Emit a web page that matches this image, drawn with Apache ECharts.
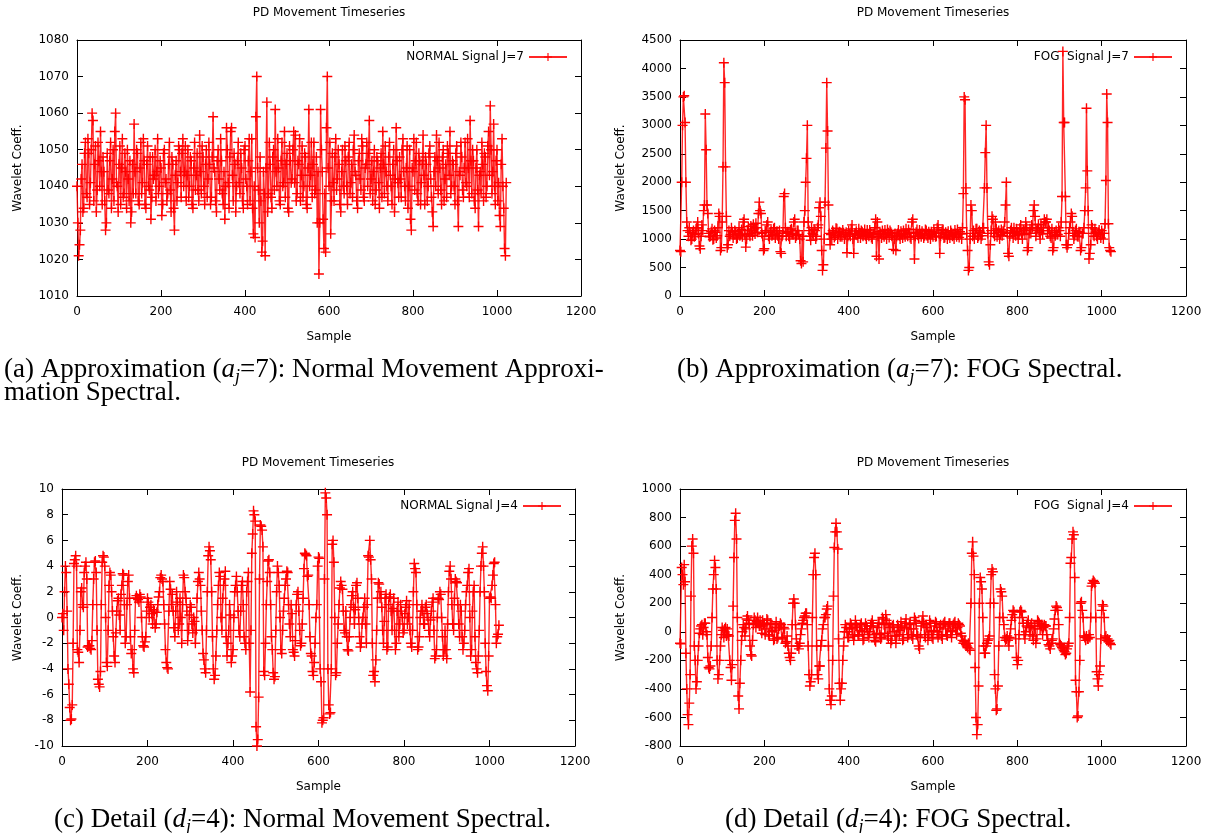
<!DOCTYPE html>
<html><head><meta charset="utf-8">
<script src="https://cdn.jsdelivr.net/npm/echarts@6/dist/echarts.min.js"></script>
<style>html,body{margin:0;padding:0;background:#fff}#c{width:1205px;height:833px}</style>
</head><body><div id="c"></div>
<script>
// sample index of stored point i = i * SAMPLE_STEP
const SAMPLE_STEP = 2;
const xTickLabels = [0, 200, 400, 600, 800, 1000, 1200];
const seriesNames = ['NORMAL Signal J=7', 'FOG  Signal J=7', 'NORMAL Signal J=4', 'FOG  Signal J=4'];
const panelTitle = 'PD Movement Timeseries';
const xName = 'Sample';
const yName = 'Wavelet Coeff.';

const normalJ7 = [
1040,1030,1021,1024,1028,1042,1046,1033,1034,1049,1052,1038,1037,1053,1049,1035,1041,1050,1060,1058,1036,1046,1051,1033,1039,1052,1047,1040,1055,1044,1035,1048,
1044,1036,1028,1030,1049,1039,1038,1047,1052,1034,1042,1050,1036,1055,1060,1041,1040,1033,1046,1051,1035,1045,1053,1037,1038,1049,1044,1034,1050,1042,1036,1047,
1030,1033,1046,1038,1057,1044,1038,1050,1049,1036,1035,1045,1052,1038,1041,1053,1047,1035,1034,1046,1051,1040,1039,1048,1031,1037,1048,1042,1043,1050,1036,1044,
1053,1038,1040,1047,1045,1032,1035,1049,1050,1041,1042,1036,1038,1046,1052,1039,1033,1048,1046,1034,1028,1043,1047,1036,1041,1051,1050,1044,1037,1049,1053,1040,
1044,1051,1036,1043,1050,1037,1040,1048,1047,1035,1034,1045,1052,1039,1043,1049,1039,1036,1054,1044,1038,1051,1048,1040,1035,1046,1050,1037,1042,1052,1046,1035,
1037,1048,1059,1045,1044,1036,1033,1047,1050,1042,1039,1053,1047,1038,1035,1044,1031,1040,1056,1050,1041,1034,1048,1055,1056,1043,1036,1049,1046,1033,1040,1047,
1052,1041,1038,1049,1045,1036,1034,1050,1051,1042,1040,1035,1047,1053,1036,1044,1053,1034,1027,1040,1026,1059,1070,1045,1039,1030,1048,1036,1022,1025,1044,1038,
1021,1045,1063,1033,1038,1052,1046,1037,1034,1048,1050,1039,1061,1044,1040,1053,1045,1036,1035,1047,1052,1040,1041,1055,1037,1046,1049,1034,1033,1051,1047,1041,
1042,1050,1055,1041,1054,1036,1038,1047,1046,1053,1036,1043,1051,1037,1040,1049,1048,1035,1034,1045,1061,1040,1043,1052,1037,1046,1052,1038,1039,1048,1030,1044,
1016,1030,1061,1050,1044,1031,1023,1038,1022,1056,1070,1045,1040,1052,1027,1036,1049,1041,1036,1048,1053,1039,1042,1050,1046,1035,1033,1044,1050,1040,1038,1051,
1047,1040,1035,1048,1052,1038,1041,1046,1037,1050,1054,1044,1043,1036,1034,1047,1049,1042,1039,1053,1051,1037,1036,1045,1046,1052,1040,1049,1058,1038,1042,1047,
1036,1044,1050,1035,1039,1048,1047,1041,1034,1045,1049,1037,1055,1046,1038,1051,1044,1040,1036,1048,1052,1043,1040,1035,1046,1050,1033,1042,1056,1047,1041,1037,
1048,1042,1037,1050,1053,1044,1040,1036,1045,1051,1034,1040,1050,1031,1028,1045,1044,1053,1039,1047,1052,1038,1036,1049,1047,1035,1041,1046,1054,1043,1035,1048,
1046,1036,1040,1049,1051,1042,1037,1033,1029,1044,1048,1040,1054,1047,1038,1052,1045,1039,1035,1048,1050,1036,1042,1046,1037,1051,1049,1043,1055,1038,1040,1047,
1046,1040,1035,1049,1051,1036,1029,1044,1043,1052,1048,1039,1037,1045,1052,1041,1040,1053,1045,1037,1058,1047,1038,1050,1047,1036,1034,1045,1050,1039,1029,1043,
1044,1038,1052,1046,1036,1049,1048,1037,1040,1051,1055,1043,1062,1050,1038,1044,1057,1040,1035,1047,1050,1036,1041,1032,1029,1046,1053,1040,1034,1023,1021,1041
];

const fogJ7 = [
800,780,2000,3000,3500,3520,3050,2000,1300,1150,1050,1200,1120,980,1000,1100,1150,1040,1080,1180,1200,1300,1100,880,830,1050,1250,1150,1500,1600,3200,2570,
1600,1450,1100,1040,1050,1130,1180,990,1000,1150,1120,1020,1060,1200,1450,1400,800,850,1300,2270,4100,3750,2270,1400,850,900,1150,1050,1080,1200,1130,1020,
1080,1150,1130,1000,1020,1100,1200,1060,1090,1170,1040,1300,1350,1080,860,1000,1150,1220,1100,1050,1230,1150,1060,1260,1180,1090,1280,1200,1120,1450,1650,1500,
1450,1100,1050,800,830,1150,1120,1250,1300,1050,1000,1120,1150,1060,1080,1180,1200,1020,1110,1140,1060,1000,1150,780,750,1050,1100,1750,1800,1200,1050,1120,
1130,1050,1000,1160,1180,1100,1080,1300,1350,1020,1060,1150,1150,1080,1000,620,570,1050,600,1300,1500,2000,2420,3000,1300,1150,1050,980,1200,1100,1080,1170,
1150,1000,1050,1200,1250,1550,1650,1400,800,450,550,1000,1650,2600,3750,2900,1600,1100,900,1080,1000,1150,1120,1030,1060,1190,1180,1000,1090,1130,1040,1110,
1040,1160,1110,1000,1080,1120,760,1050,1150,1090,1050,1180,1250,1000,750,1080,1100,1140,1070,1020,1180,1110,1020,1150,1130,1050,1090,1170,1060,1000,1160,1090,
1050,1160,1120,1030,1000,1100,1080,1200,1350,700,1300,1050,650,1130,1100,1020,1150,1080,1040,1160,1090,1000,1170,1110,1030,1150,1120,1060,1070,820,1000,1100,
800,1050,1100,1160,1060,1000,1140,1080,1020,1150,1090,1040,1180,1100,1050,1170,1110,1030,1000,1300,1350,1100,650,1050,1120,1170,1070,1010,1160,1090,1040,1140,
1100,1020,1060,1170,1150,1060,1020,1130,1090,1000,1130,1080,1040,1160,1110,1040,1050,1200,1250,1100,750,1050,1100,1150,1170,1020,1030,1120,1080,1000,1140,1070,
1020,1150,1110,1050,1070,1000,1160,1100,1040,1170,1090,1030,1130,1090,1000,1200,1800,3500,3450,1900,1100,800,450,500,1000,1600,1500,1050,1150,1000,1100,1180,
1180,1020,1050,1150,1120,1000,1060,1200,1200,1900,2520,3000,1900,1100,600,550,900,1150,1400,1350,1100,1050,1300,1180,1040,1120,1150,1000,1080,1170,1060,1140,
1120,1300,1600,2000,1100,750,700,1050,1150,1200,1100,1020,1200,1120,1060,1180,1130,1000,1080,1190,1250,1100,1000,1160,1150,1080,1300,1200,800,850,1100,1180,
1100,1250,1200,1500,1600,1400,1050,1150,1180,1260,1120,1000,1250,1150,1090,1200,1350,1300,1300,1350,1100,1200,1150,1050,1020,1180,800,850,1120,1060,1150,1080,
1080,1200,1150,1050,1300,1750,4300,3050,3050,1750,900,850,900,1100,1200,1300,1450,1400,1100,1000,1060,1150,1180,1050,1040,1130,1120,800,850,1100,1100,1200,
1500,1900,3300,2200,1500,650,750,900,1250,1200,1100,1050,1180,1120,1050,1000,1120,1160,1080,1020,1150,1100,1000,1100,1270,2030,3550,3050,1270,850,800,780
];

const normalJ4 = [
0,0.3,-1,2,4,3.5,0.5,-4,-5.2,-7,-8,-7.9,-6.8,-2,4.2,4.5,4.8,4,-2.5,-2.7,-3.5,-1,2,2.3,1,0.8,3.5,4,4.3,3,-2.3,-2.2,
-2.2,-2.4,-2.5,-1.8,1,3,4.3,4.4,3.5,-1,-4.8,-5.2,-5.4,-4.2,1,4.3,4.8,4.7,4,0,-3.5,-3.8,-1,2.5,3.5,3.3,2,0.5,-1.5,-3,-3.5,-1.2,
0.5,1.3,1.5,0.2,-1,1.8,2.5,3.4,3.3,1,-2,-1.5,1,2.8,3.3,1.5,-1.5,-2.8,-2.5,-4,-4.3,-1,1.5,1.7,1.5,1.4,1.2,1.8,1.6,0,-1.5,-2.2,
-2.3,-1.9,-1.5,0.5,1.5,1.2,0,0.8,1,0.3,-0.5,0.6,0.5,-0.8,-0.5,0.4,1,1.6,2,3.1,3.3,3,2.8,1,-0.5,-2.5,-3.5,-3.9,-4,0.5,2.8,2.2,
1,1.8,0.5,-0.8,-1.5,0.5,2,1.2,-1,-0.5,1.5,0,-2,1,3.3,3.1,2,1.5,0.5,-1.8,-1,0.2,1,0.8,-0.5,-1.2,0,-0.3,-2,-1,1.5,2.8,
3.5,3,2.5,0.5,-1,-2.8,-3.3,-4,-4.3,-1,2,4.8,5.5,5.2,4.5,2,-1.5,-4,-4.8,-4.5,-3,-1,1,2.5,3.5,3.2,0,-1,1.5,2.5,3,3.6,
-1.5,-3,-2,-1,1,0.2,-3.5,-3,-2.5,0,2,2.5,3.2,2,0.5,-1,-1.5,0.5,2.5,2.8,1,-1.5,-2,-2.5,2,2.8,3.5,-2,-5.8,-1,5,6.5,
8.3,8,7.5,-8.5,-10,-9.5,-6.2,3,7.2,7.1,6.8,5.5,-4.2,-4.5,-2,1,2.8,4.4,4.5,3.5,1,-1.5,-2.5,-4.3,-4.8,-4.6,-1,2,4,3.5,2.5,0,
-2.5,-2.8,-1,0.5,1.5,2.5,3,3.6,3.5,1,-0.5,-1.5,1,0.3,-2.5,-2.7,-3,-1.8,1,1.8,2,0.5,-1,-2.2,-2,-0.5,1.5,3.8,5,4.9,4.8,3.2,
3.3,1,-1.5,-2.8,-3,-4.2,-4.5,-3.5,-2,0,1,4,4.7,4.6,-4,-5,-8.2,-8,-7.8,3,9.7,9.3,8,-4,-6.8,-7.5,-7.4,-4,5.7,6,4.3,0,
-4.5,-4.3,-2,-0.5,1,2.3,2.8,2.5,2.2,0.5,-1,-1.2,0.5,-1.5,-2.5,-2.6,-1.5,0,1,1.7,2,0.8,-0.5,0.6,2.5,2.7,1.5,0,-1.5,-2.3,-2,-0.5,
0,0.8,1.5,-0.5,-2,1,4.8,4.7,6,4.5,3,-2,-4.5,-4.2,-5,-3.3,-1,1.5,2.7,2.6,1.5,2,0.8,-1,-2,-0.3,1.5,1.8,-2.5,-2.3,1,1.6,
1.8,0.5,-1,0.7,1.5,-1,-2.5,-2,0.5,1.2,-1.5,-0.5,1,0.5,0,-1.2,-1,0.3,0.8,1.3,-0.5,0,1,-1,-2,-2.3,-1,2,4.2,3.8,3.5,1,
-2.5,-2.3,-1.5,0,0.5,1,0.5,-0.5,-0.5,0.8,1,0.3,0,-1,-1.5,-0.2,0.5,1.2,1.5,-1,-3.2,-3,-2.5,0,1.5,1.4,2,1.8,0,-1.5,-3,-2.5,
-1,-2.5,-3.2,-0.5,2,3.6,4,3,1,-0.5,-1,1.5,3,2.8,2.7,1,-0.5,-1.5,1,0.5,-1.5,-2.5,-2,-1,1,2,2.5,3.5,3.8,0,-3,-2.5,
0.5,2,2.5,-1.5,-3.5,-4,-4.3,-3,-1,2,4,5,5.5,4,2,-2,-4.2,-5.3,-5.7,-3,1.5,1.6,1.5,2.5,3.3,4.2,4.3,1,-2,-1.5,-1.3,-0.6
];

const fogJ4 = [
-80,-85,450,400,330,470,350,-150,-400,-580,-650,-500,-300,250,600,650,550,-100,-200,-400,-350,-200,-100,-10,20,40,50,-20,30,60,60,0,
-20,-180,-250,-260,-240,-100,100,300,400,500,450,300,-200,-330,-300,-200,-100,-20,30,10,-40,20,30,-30,20,-20,-30,-200,-250,-340,-230,180,
520,780,830,650,100,-450,-540,-360,-200,-60,0,50,30,-30,20,90,110,80,60,-100,-160,-170,-60,50,100,80,30,70,100,60,40,80,
40,-10,80,50,60,-20,20,90,80,-20,-30,60,50,0,10,-60,-50,30,70,-50,-40,20,40,60,50,-50,-40,30,20,-80,-70,-30,
-100,-150,-180,-200,-150,50,200,230,200,50,-50,-100,-100,-120,-80,-20,20,60,80,100,110,130,130,50,-100,-300,-380,-350,-300,100,400,520,
550,400,-100,-300,-330,-240,-240,-100,-60,20,50,100,100,120,160,180,-100,-400,-480,-510,-450,-200,250,590,700,760,700,580,-50,-360,-480,-400,
-360,-200,-100,0,50,30,0,-40,-40,20,60,50,20,-20,-60,-30,80,40,30,-20,-30,10,50,60,0,-60,-50,20,60,40,20,-20,
-40,0,40,60,80,40,-20,-60,-70,-10,30,60,60,-20,-50,-40,100,90,50,-10,120,80,-30,-50,60,30,-80,-60,40,50,0,-30,
-80,-30,50,30,-20,10,70,40,-60,-50,30,60,90,20,-40,-20,50,60,20,-30,-50,20,100,80,60,-20,-30,-100,-120,-40,40,70,
110,60,-20,-40,50,30,-60,-20,80,60,0,-40,-50,10,40,70,60,0,-40,-20,30,50,-30,-50,50,60,70,20,-20,-30,40,60,
60,0,-40,10,50,60,70,20,-20,30,60,50,40,-10,-30,-60,-80,-70,-60,-90,-100,-110,-80,-120,-130,200,550,630,530,400,-250,-600,
-720,-650,-380,200,380,350,300,100,-100,-150,-150,-100,-80,-60,-50,-30,200,400,440,420,200,-300,-400,-550,-540,-380,-100,100,300,280,250,100,
50,-40,-60,-50,-30,-60,-100,-40,20,80,120,150,140,100,-50,-180,-230,-200,-20,140,150,140,100,60,-20,-50,0,40,60,80,30,-20,
40,60,-30,-60,40,20,-80,-50,80,70,60,20,40,50,-20,30,50,40,40,-20,-60,-90,-100,-120,-80,-60,-50,20,90,150,180,170,
150,50,-80,-90,-100,-110,-120,-130,-140,-160,-150,-120,-100,-80,100,480,520,650,700,680,380,-340,-420,-600,-590,-420,-200,200,210,150,100,-30,
-40,-60,-30,-50,-50,-20,-40,100,320,340,360,350,340,100,-280,-330,-380,-300,-240,-50,150,190,180,100,-40,-30,-60,-50,-70,-60,-80,-90
];

const yRanges = [
  {min: 1010, max: 1080, interval: 10},
  {min: 0, max: 4500, interval: 500},
  {min: -10, max: 10, interval: 2},
  {min: -800, max: 1000, interval: 200}
];
const seriesValues = [normalJ7, fogJ7, normalJ4, fogJ4];

// layout
const grids = [
  {left: 77, top: 40, width: 504, height: 256},
  {left: 680, top: 40, width: 506, height: 256},
  {left: 62, top: 489, width: 513, height: 257},
  {left: 680, top: 489, width: 506, height: 257}
];
const yNameGaps = [53, 53, 38, 53];
const FONT = 'DejaVu Sans';
const PLUS = 'path://M0,4.3L10,4.3L10,5.7L0,5.7Z M4.3,0L5.7,0L5.7,10L4.3,10Z';
const RED = '#ff0000';
const plain = v => String(v);

const xAxes = [], yAxes = [], series = [], legends = [];
grids.forEach((g, gi) => {
  const common = {
    gridIndex: gi, type: 'value',
    axisLine: {show: true, onZero: false, lineStyle: {color: '#000', width: 1}},
    axisTick: {show: true, inside: true, length: 6, lineStyle: {color: '#000', width: 1}},
    splitLine: {show: false}
  };
  xAxes.push(Object.assign({}, common, {
    position: 'bottom', min: xTickLabels[0], max: xTickLabels[xTickLabels.length - 1], interval: 200,
    axisLabel: {color: '#000', fontFamily: FONT, fontSize: 12, margin: 10, formatter: plain},
    name: xName, nameLocation: 'middle', nameGap: 35,
    nameTextStyle: {color: '#000', fontFamily: FONT, fontSize: 12}
  }));
  xAxes.push(Object.assign({}, common, {
    position: 'top', min: xTickLabels[0], max: xTickLabels[xTickLabels.length - 1], interval: 200,
    axisLabel: {show: false}
  }));
  const yr = yRanges[gi];
  yAxes.push(Object.assign({}, common, {
    position: 'left', min: yr.min, max: yr.max, interval: yr.interval,
    axisLabel: {color: '#000', fontFamily: FONT, fontSize: 12, margin: 8, formatter: plain},
    name: yName, nameLocation: 'middle', nameRotate: 90, nameGap: yNameGaps[gi],
    nameTextStyle: {color: '#000', fontFamily: FONT, fontSize: 12}
  }));
  yAxes.push(Object.assign({}, common, {
    position: 'right', min: yr.min, max: yr.max, interval: yr.interval,
    axisLabel: {show: false}
  }));
  series.push({
    type: 'line', name: seriesNames[gi],
    xAxisIndex: gi * 2, yAxisIndex: gi * 2,
    data: seriesValues[gi].map((v, i) => [i * SAMPLE_STEP, v]),
    symbol: PLUS, symbolSize: 10, showSymbol: true, showAllSymbol: true,
    lineStyle: {color: RED, width: 1.4, opacity: 0.85},
    itemStyle: {color: RED},
    emphasis: {disabled: true},
    animation: false
  });
  legends.push({
    data: [seriesNames[gi]],
    right: 1205 - (g.left + g.width - 8), top: g.top + 6,
    align: 'right', itemWidth: 38, itemHeight: 10, itemGap: 0,
    textStyle: {color: '#000', fontFamily: FONT, fontSize: 12},
    selectedMode: false
  });
});

const titleCenters = [[329, 13], [933, 13], [318, 463], [933, 463]];
const graphics = titleCenters.map(p => ({
  type: 'text', x: p[0], y: p[1],
  style: {text: panelTitle, fill: '#000', font: '12px "DejaVu Sans"', textAlign: 'center', textVerticalAlign: 'middle'}
}));

const capFont = 'Liberation Serif';
const capSize = 27;
const rich = {
  n: {fontFamily: capFont, fontSize: capSize, color: '#000', lineHeight: 32},
  i: {fontFamily: capFont, fontSize: capSize, fontStyle: 'italic', color: '#000', lineHeight: 32},
  s: {fontFamily: capFont, fontSize: 18, fontStyle: 'italic', color: '#000', lineHeight: 18, verticalAlign: 'bottom'}
};
const captions = [
  {x: 4, y: 370, text: '{n|(a) Approximation (}{i|a}{s|j}{n|=7): Normal Movement Approxi-}'},
  {x: 4, y: 393, text: '{n|mation Spectral.}'},
  {x: 677, y: 370, text: '{n|(b) Approximation (}{i|a}{s|j}{n|=7): FOG Spectral.}'},
  {x: 54, y: 820, text: '{n|(c) Detail (}{i|d}{s|j}{n|=4): Normal Movement Spectral.}'},
  {x: 725, y: 820, text: '{n|(d) Detail (}{i|d}{s|j}{n|=4): FOG Spectral.}'}
];
captions.forEach(c => graphics.push({
  type: 'text', x: c.x, y: c.y,
  style: {text: c.text, rich: rich, fill: '#000', fontFamily: capFont, fontSize: capSize, textAlign: 'left', textVerticalAlign: 'middle'}
}));

const chart = echarts.init(document.getElementById('c'), null, {renderer: 'canvas'});
chart.setOption({
  backgroundColor: '#fff',
  animation: false,
  grid: grids,
  xAxis: xAxes,
  yAxis: yAxes,
  legend: legends,
  series: series,
  graphic: graphics
});
</script>
</body></html>
